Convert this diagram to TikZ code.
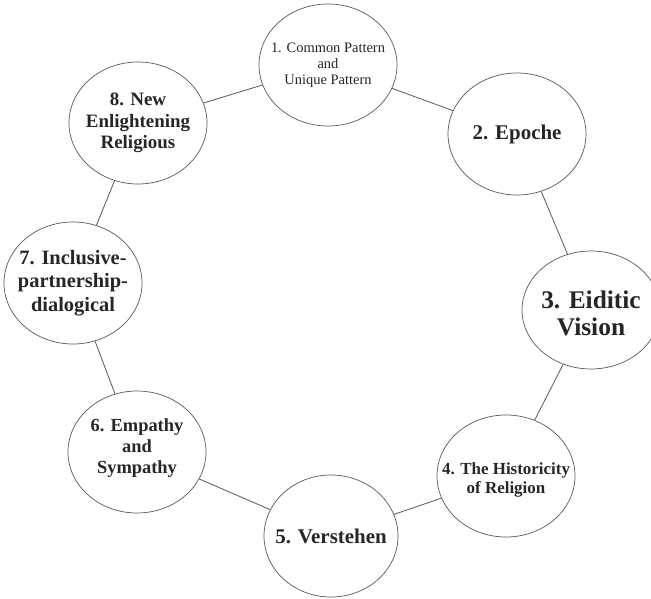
\documentclass[tikz,border=0pt]{standalone}
\usepackage{fontspec}
\setmainfont{Liberation Serif}
\usetikzlibrary{shapes.geometric}
\begin{document}
\begin{tikzpicture}[x=1bp,y=-1bp,
  circ/.style={ellipse, draw=black!65, line width=0.7bp, minimum width=138bp, minimum height=122bp, inner sep=0pt},
  lbl/.style={align=center, text=black!85, inner sep=0pt},
  link/.style={draw=black!65, line width=0.8bp}]
\useasboundingbox (0,0) rectangle (651,599);
\fill[white] (0,0) rectangle (651,599);
\node[circ] (n1) at (328,65) {};
\node[circ] (n2) at (517,134) {};
\node[circ, minimum height=118bp] (n3) at (591,310) {};
\node[circ] (n4) at (506,476) {};
\node[circ, minimum width=134bp] (n5) at (331,536) {};
\node[circ] (n6) at (137,452) {};
\node[circ] (n7) at (73,283) {};
\node[circ] (n8) at (138,123) {};
\node[lbl, font=\fontsize{14.5}{16}\selectfont] (t1) at (n1) {1. Common Pattern\\and\\Unique Pattern};
\node[lbl, font=\bfseries\fontsize{21}{24}\selectfont] (t2) at (n2) {2. Epoche};
\node[lbl, font=\bfseries\fontsize{25.5}{27}\selectfont] (t3) at ([yshift=-3bp]n3.center) {3. Eiditic\\Vision};
\node[lbl, font=\bfseries\fontsize{17}{20}\selectfont] (t4) at ([yshift=-4bp]n4.center) {4. The Historicity\\of Religion};
\node[lbl, font=\bfseries\fontsize{21}{24}\selectfont] (t5) at (n5) {5. Verstehen};
\node[lbl, font=\bfseries\fontsize{18.5}{21}\selectfont] (t6) at ([yshift=4bp]n6.center) {6. Empathy\\and\\Sympathy};
\node[lbl, font=\bfseries\fontsize{20.5}{23.5}\selectfont] (t7) at (n7) {7. Inclusive-\\partnership-\\dialogical};
\node[lbl, font=\bfseries\fontsize{19}{21.7}\selectfont] (t8) at (n8) {8. New\\Enlightening\\Religious};
\draw[link] (n1) -- (n2);
\draw[link] (n2) -- (n3);
\draw[link] (n3) -- (n4);
\draw[link] (n4) -- (n5);
\draw[link] (n5) -- (n6);
\draw[link] (n6) -- (n7);
\draw[link] (n7) -- (n8);
\draw[link] (n8) -- (n1);
\end{tikzpicture}
\end{document}
